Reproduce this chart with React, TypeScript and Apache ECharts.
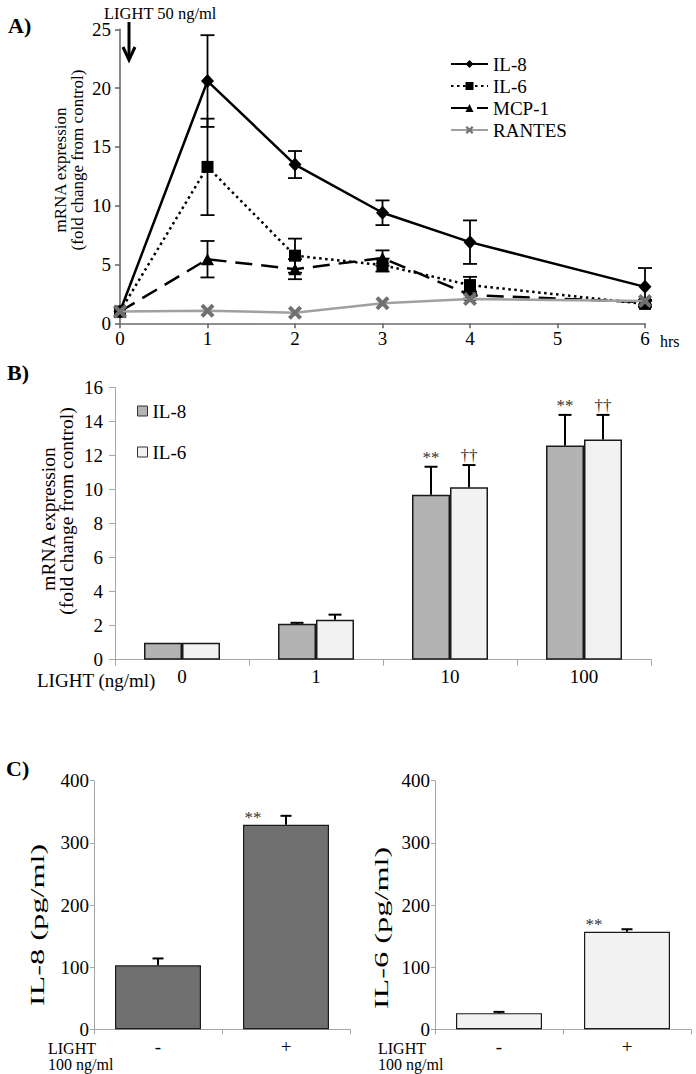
import React, { useEffect, useRef } from 'react';
import * as echarts from 'echarts';

const FONT = "'Liberation Serif', 'Times New Roman', serif";

// ---------- Panel A: time course (hrs) ----------
const hoursA = [0, 1, 2, 3, 4, 6];
const il8A = [1.0, 20.6, 13.5, 9.4, 6.9, 3.1];
const il8AErr = [0, 3.9, 1.15, 1.05, 1.85, 1.6];
const il6A = [1.0, 13.3, 5.75, 4.95, 3.25, 1.65];
const il6AErr = [0, 4.1, 1.45, 0.55, 0.7, 0.25];
const mcp1A = [1.0, 5.45, 4.6, 5.55, 2.4, 1.8];
const mcp1AErr = [0, 1.55, 0.85, 0.65, 0.3, 0.2];
const rantesA = [1.0, 1.07, 0.9, 1.7, 2.07, 1.9];

// ---------- Panel B: dose response ----------
const doseB = ['0', '1', '10', '100'];
const il8B = [1.0, 2.12, 9.7, 12.6];
const il8BErr = [0, 0.05, 1.65, 1.8];
const il6B = [1.0, 2.35, 10.15, 12.95];
const il6BErr = [0, 0.3, 1.3, 1.45];
const il8BMarks = ['', '', '**', '**'];
const il6BMarks = ['', '', '††', '††'];

// ---------- Panel C: protein ----------
const lightC = ['-', '+'];
const il8C = [103, 329];
const il8CErr = [11, 14.5];
const il6C = [26, 157];
const il6CErr = [2, 4];
const il8CMarks = ['', '**'];
const il6CMarks = ['', '**'];

const X_PATH = 'path://M0,2L2,0L5,3L8,0L10,2L7,5L10,8L8,10L5,7L2,10L0,8L3,5Z';

type ErrOpts = {
  offset?: number;
  cap: number;
  both: boolean;
  width: number;
  marks?: string[];
  markMode?: 'above' | 'corner';
  barW?: number;
};

function errSeries(name: string, xi: number, xs: number[], vals: number[], errs: number[], o: ErrOpts) {
  return {
    name,
    type: 'custom',
    xAxisIndex: xi,
    yAxisIndex: xi,
    z: 4,
    silent: true,
    encode: { x: 0, y: 1 },
    data: xs.map((x, i) => [x, vals[i], errs[i], i]),
    renderItem: (params: any, api: any) => {
      const x = api.value(0);
      const v = api.value(1);
      const e = api.value(2);
      const i = api.value(3);
      const top = api.coord([x, v + e]);
      const bot = api.coord([x, o.both ? v - e : v]);
      const px = top[0] + (o.offset || 0);
      const children: any[] = [];
      const ls = { stroke: '#000', lineWidth: o.width };
      if (e > 0) {
        children.push({ type: 'line', shape: { x1: px, y1: top[1], x2: px, y2: bot[1] }, style: ls });
        children.push({ type: 'line', shape: { x1: px - o.cap / 2, y1: top[1], x2: px + o.cap / 2, y2: top[1] }, style: ls });
        if (o.both) {
          children.push({ type: 'line', shape: { x1: px - o.cap / 2, y1: bot[1], x2: px + o.cap / 2, y2: bot[1] }, style: ls });
        }
      }
      const mark = o.marks ? o.marks[i] : '';
      if (mark) {
        if (o.markMode === 'corner') {
          const vTop = api.coord([x, v]);
          children.push({
            type: 'text',
            x: px - (o.barW || 0) / 2 + 10,
            y: vTop[1] + 1,
            style: { text: mark, fill: '#333', font: `17px ${FONT}`, align: 'center', verticalAlign: 'bottom' },
          });
        } else {
          children.push({
            type: 'text',
            x: px,
            y: top[1] - 1,
            style: { text: mark, fill: '#333', font: `17px ${FONT}`, align: 'center', verticalAlign: 'bottom' },
          });
        }
      }
      return { type: 'group', children };
    },
  };
}

const txt = (text: string, x: number, y: number, size: number, weight = 'normal') => ({
  type: 'text',
  x,
  y,
  style: {
    text,
    fill: '#000',
    font: `${weight} ${size}px ${FONT}`,
    lineHeight: 16,
    align: 'left',
    verticalAlign: 'middle',
  },
});

const vtxt = (text: string, x: number, y: number, size: number, scaleX = 1) => ({
  type: 'text',
  x,
  y,
  rotation: Math.PI / 2,
  scaleX,
  style: { text, fill: '#000', font: `${size}px ${FONT}`, align: 'center', verticalAlign: 'middle' },
});

const grayAxis = { lineStyle: { color: '#a6a6a6', width: 1 } };
const labelStyle = { color: '#000', fontFamily: FONT, fontSize: 19, lineHeight: 16 };

function buildOption() {
  return {
    animation: false,
    backgroundColor: '#fff',
    textStyle: { fontFamily: FONT },
    grid: [
      { left: 120, top: 29.3, width: 525, height: 294, outerBoundsMode: 'none' },
      { left: 115, top: 387.7, width: 536, height: 272, outerBoundsMode: 'none' },
      { left: 94, top: 780.7, width: 256, height: 248.6, outerBoundsMode: 'none' },
      { left: 435, top: 780.7, width: 256, height: 248.6, outerBoundsMode: 'none' },
    ],
    xAxis: [
      {
        gridIndex: 0, type: 'value', min: 0, max: 6, interval: 1,
        axisLine: { lineStyle: { color: '#6b6b6b', width: 1.6 } },
        axisTick: { show: true, length: 5, lineStyle: { color: '#6b6b6b', width: 1.6 } },
        axisLabel: { ...labelStyle, margin: 7 },
        splitLine: { show: false },
      },
      {
        gridIndex: 1, type: 'category', data: doseB, boundaryGap: true,
        axisLine: grayAxis,
        axisTick: { show: true, length: 6, lineStyle: { color: '#a6a6a6' } },
        axisLabel: { ...labelStyle, margin: 9 },
      },
      {
        gridIndex: 2, type: 'category', data: lightC, boundaryGap: true,
        axisLine: grayAxis,
        axisTick: { show: true, length: 5, lineStyle: { color: '#a6a6a6' } },
        axisLabel: { ...labelStyle, margin: 9 },
      },
      {
        gridIndex: 3, type: 'category', data: lightC, boundaryGap: true,
        axisLine: grayAxis,
        axisTick: { show: true, length: 5, lineStyle: { color: '#a6a6a6' } },
        axisLabel: { ...labelStyle, margin: 9 },
      },
    ],
    yAxis: [
      {
        gridIndex: 0, type: 'value', min: 0, max: 25, interval: 5,
        axisLine: { show: true, lineStyle: { color: '#6b6b6b', width: 1.6 } },
        axisTick: { show: true, length: 5, lineStyle: { color: '#6b6b6b', width: 1.6 } },
        axisLabel: { ...labelStyle, margin: 9 },
        splitLine: { show: false },
      },
      {
        gridIndex: 1, type: 'value', min: 0, max: 16, interval: 2,
        axisLine: { show: true, ...grayAxis },
        axisTick: { show: true, length: 6, lineStyle: { color: '#a6a6a6' } },
        axisLabel: { ...labelStyle, margin: 12 },
        splitLine: { show: false },
      },
      {
        gridIndex: 2, type: 'value', min: 0, max: 400, interval: 100,
        axisLine: { show: true, ...grayAxis },
        axisTick: { show: true, length: 4, lineStyle: { color: '#a6a6a6' } },
        axisLabel: { ...labelStyle, margin: 5 },
        splitLine: { show: false },
      },
      {
        gridIndex: 3, type: 'value', min: 0, max: 400, interval: 100,
        axisLine: { show: true, ...grayAxis },
        axisTick: { show: true, length: 4, lineStyle: { color: '#a6a6a6' } },
        axisLabel: { ...labelStyle, margin: 5 },
        splitLine: { show: false },
      },
    ],
    legend: [
      {
        orient: 'vertical', left: 450, top: 53, padding: 0, itemWidth: 37, itemHeight: 10, itemGap: 0,
        selectedMode: false,
        data: ['IL-8', 'IL-6', 'MCP-1', 'RANTES'],
        textStyle: { fontFamily: FONT, fontSize: 19, color: '#000', lineHeight: 22 },
      },
      {
        orient: 'vertical', left: 137, top: 400, padding: 0, itemWidth: 10, itemHeight: 10, itemGap: 19,
        selectedMode: false,
        data: [
          { name: 'IL-8 mRNA', icon: 'rect', itemStyle: { color: '#b3b3b3', borderColor: '#333', borderWidth: 1 } },
          { name: 'IL-6 mRNA', icon: 'rect', itemStyle: { color: '#f2f2f2', borderColor: '#333', borderWidth: 1 } },
        ],
        formatter: (n: string) => n.replace(' mRNA', ''),
        textStyle: { fontFamily: FONT, fontSize: 19, color: '#000', lineHeight: 22 },
      },
    ],
    series: [
      // Panel A error bars
      errSeries('IL-8 err', 0, hoursA, il8A, il8AErr, { cap: 14, both: true, width: 1.8 }),
      errSeries('IL-6 err', 0, hoursA, il6A, il6AErr, { cap: 14, both: true, width: 1.8 }),
      errSeries('MCP-1 err', 0, hoursA, mcp1A, mcp1AErr, { cap: 14, both: true, width: 1.8 }),
      {
        name: 'IL-8', type: 'line', xAxisIndex: 0, yAxisIndex: 0, z: 5,
        data: hoursA.map((h, i) => [h, il8A[i]]),
        symbol: 'diamond', symbolSize: [13, 14],
        lineStyle: { color: '#000', width: 2.5 }, itemStyle: { color: '#000' },
      },
      {
        name: 'IL-6', type: 'line', xAxisIndex: 0, yAxisIndex: 0, z: 5,
        data: hoursA.map((h, i) => [h, il6A[i]]),
        symbol: 'rect', symbolSize: 12,
        lineStyle: { color: '#000', width: 2.5, type: [2.5, 3.5] }, itemStyle: { color: '#000' },
      },
      {
        name: 'MCP-1', type: 'line', xAxisIndex: 0, yAxisIndex: 0, z: 5,
        data: hoursA.map((h, i) => [h, mcp1A[i]]),
        symbol: 'triangle', symbolSize: [13, 12],
        lineStyle: { color: '#000', width: 2.5, type: [17, 9] }, itemStyle: { color: '#000' },
      },
      {
        name: 'RANTES', type: 'line', xAxisIndex: 0, yAxisIndex: 0, z: 6,
        data: hoursA.map((h, i) => [h, rantesA[i]]),
        symbol: X_PATH, symbolSize: 14,
        lineStyle: { color: '#a0a0a0', width: 2.5 }, itemStyle: { color: '#707070' },
      },
      // Panel B bars
      {
        name: 'IL-8 mRNA', type: 'bar', xAxisIndex: 1, yAxisIndex: 1, data: il8B,
        barWidth: 38, barGap: '0%',
        itemStyle: { color: '#b3b3b3', borderColor: '#1a1a1a', borderWidth: 1.5 },
      },
      {
        name: 'IL-6 mRNA', type: 'bar', xAxisIndex: 1, yAxisIndex: 1, data: il6B,
        barWidth: 38, barGap: '0%',
        itemStyle: { color: '#f2f2f2', borderColor: '#1a1a1a', borderWidth: 1.5 },
      },
      errSeries('IL-8 mRNA err', 1, doseB.map((_, i) => i), il8B, il8BErr, { offset: -19, cap: 13, both: false, width: 2, marks: il8BMarks, markMode: 'above' }),
      errSeries('IL-6 mRNA err', 1, doseB.map((_, i) => i), il6B, il6BErr, { offset: 19, cap: 13, both: false, width: 2, marks: il6BMarks, markMode: 'above' }),
      // Panel C bars
      {
        name: 'IL-8 protein', type: 'bar', xAxisIndex: 2, yAxisIndex: 2, data: il8C, barWidth: 86,
        itemStyle: { color: '#707070', borderColor: '#1a1a1a', borderWidth: 1.2 },
      },
      {
        name: 'IL-6 protein', type: 'bar', xAxisIndex: 3, yAxisIndex: 3, data: il6C, barWidth: 86,
        itemStyle: { color: '#f2f2f2', borderColor: '#1a1a1a', borderWidth: 1.2 },
      },
      errSeries('IL-8 protein err', 2, lightC.map((_, i) => i), il8C, il8CErr, { cap: 11, both: false, width: 2, marks: il8CMarks, markMode: 'corner', barW: 86 }),
      errSeries('IL-6 protein err', 3, lightC.map((_, i) => i), il6C, il6CErr, { cap: 11, both: false, width: 2, marks: il6CMarks, markMode: 'corner', barW: 86 }),
    ],
    graphic: [
      txt('A)', 8, 25, 22, 'bold'),
      txt('B)', 7, 372, 22, 'bold'),
      txt('C)', 6, 768, 22, 'bold'),
      txt('LIGHT 50 ng/ml', 104, 13, 16.5),
      { type: 'line', shape: { x1: 129, y1: 22, x2: 129, y2: 59 }, style: { stroke: '#000', lineWidth: 3 } },
      { type: 'polyline', shape: { points: [[123, 47], [129, 60], [135, 47]] }, style: { stroke: '#000', lineWidth: 3, fill: null } },
      txt('hrs', 660, 341, 16),
      vtxt('mRNA expression', 60, 170, 17),
      vtxt('(fold change from control)', 77, 160, 17),
      vtxt('mRNA expression', 48, 519, 19.5),
      vtxt('(fold change from control)', 66, 511, 19.5),
      txt('LIGHT (ng/ml)', 37, 680, 19),
      vtxt('IL-8 (pg/ml)', 38, 925, 18.5, 1.75),
      vtxt('IL-6 (pg/ml)', 382, 928, 18.5, 1.75),
      txt('LIGHT', 48, 1048, 16),
      txt('100 ng/ml', 48, 1064, 16),
      txt('LIGHT', 378, 1048, 16),
      txt('100 ng/ml', 378, 1064, 16),
    ],
  };
}

export default function App() {
  const ref = useRef<HTMLDivElement>(null);
  useEffect(() => {
    const chart = echarts.init(ref.current!, null, { renderer: 'svg' });
    chart.setOption(buildOption() as any);
    return () => chart.dispose();
  }, []);
  return (
    <div
      ref={ref}
      style={{ position: 'absolute', left: 0, top: 0, width: 696, height: 1074, background: '#fff' }}
    />
  );
}
